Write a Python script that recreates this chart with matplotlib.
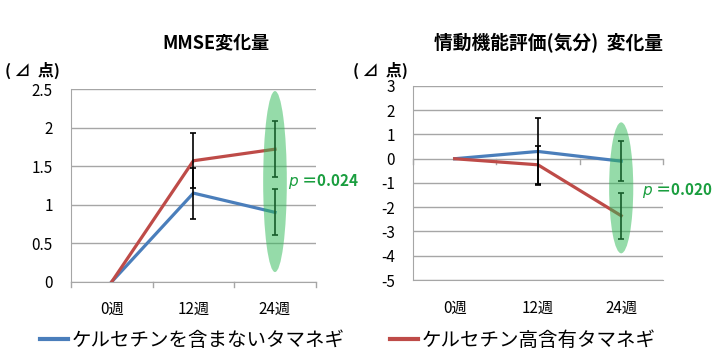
import numpy as np
import matplotlib
matplotlib.use('Agg')
import matplotlib.pyplot as plt
from matplotlib.patches import Ellipse
from matplotlib.lines import Line2D

plt.rcParams['font.family'] = ['Noto Sans CJK JP', 'DejaVu Sans']

# ── Data ──────────────────────────────────────────────
WEEKS = ['0週', '12週', '24週']

mmse_none  = [0, 1.15, 0.90]
mmse_none_err = [0, 0.33, 0.30]
mmse_high  = [0, 1.57, 1.72]
mmse_high_err = [0, 0.36, 0.36]

mood_none  = [0, 0.30, -0.10]
mood_none_err = [0, 1.38, 0.82]
mood_high  = [0, -0.25, -2.35]
mood_high_err = [0, 0.78, 0.95]

P_LEFT  = '0.024'
P_RIGHT = '0.020'

LABEL_NONE = 'ケルセチンを含まないタマネギ'
LABEL_HIGH = 'ケルセチン高含有タマネギ'

BLUE  = '#4A7EBB'
RED   = '#BE4B48'
GREEN_TXT = '#1A9E3F'
GRID  = '#A6A6A6'

fig = plt.figure(figsize=(7.2, 3.6), dpi=100)
axL = fig.add_axes([0.0986, 0.2175, 0.340, 0.535])
axR = fig.add_axes([0.5736, 0.2222, 0.347, 0.539])

x = np.arange(len(WEEKS))


def style(ax, ylim, yticks, ylabels, cat_y):
    ax.set_xlim(-0.5, 2.5)
    ax.set_ylim(*ylim)
    ax.set_yticks(yticks)
    ax.set_yticklabels(ylabels, fontsize=11)
    ax.set_xticks(x)
    ax.set_xticklabels(WEEKS, fontsize=11)
    ax.tick_params(axis='y', length=0, pad=13)
    ax.tick_params(axis='x', length=0, pad=14)
    for s in ['top', 'right']:
        ax.spines[s].set_visible(False)
    ax.spines['left'].set_color(GRID)
    ax.spines['bottom'].set_color(GRID)
    ax.yaxis.grid(True, color=GRID, linewidth=1)
    ax.set_axisbelow(True)
    # category boundary ticks on the category axis
    span = ylim[1] - ylim[0]
    for b in [-0.5, 0.5, 1.5, 2.5]:
        ax.plot([b, b], [cat_y, cat_y - span * 0.025], color=GRID,
                linewidth=1, clip_on=False, zorder=1)


def draw(ax, none, none_err, high, high_err, ell_c, ell_h):
    ax.plot(x, none, color=BLUE, linewidth=2.3, zorder=3)
    ax.plot(x, high, color=RED, linewidth=2.3, zorder=3)
    ax.errorbar(x[1:], high[1:], yerr=high_err[1:], fmt='none',
                ecolor='black', elinewidth=1.2, capsize=2.5, capthick=1.2,
                zorder=4)
    ax.errorbar(x[1:], none[1:], yerr=none_err[1:], fmt='none',
                ecolor='black', elinewidth=1.2, capsize=2.5, capthick=1.2,
                zorder=4)
    ax.add_patch(Ellipse((2, ell_c), 0.29, ell_h, facecolor='#2DB955',
                         edgecolor='none', alpha=0.5, zorder=5))


# ── Left: MMSE ──
style(axL, (0, 2.5), [0, 0.5, 1, 1.5, 2, 2.5],
      ['0', '0.5', '1', '1.5', '2', '2.5'], 0)
draw(axL, mmse_none, mmse_none_err, mmse_high, mmse_high_err, 1.3, 2.35)
axL.text(2.16, 1.30, r'$\mathit{p}$ ＝' + P_LEFT, color=GREEN_TXT,
         fontsize=11, fontweight='bold', va='center', ha='left',
         clip_on=False)

# ── Right: mood ──
yt = list(range(-5, 4))
style(axR, (-5, 3), yt, [str(v) for v in yt], 0)
draw(axR, mood_none, mood_none_err, mood_high, mood_high_err, -1.2, 5.4)
axR.text(2.25, -1.29, r'$\mathit{p}$ ＝' + P_RIGHT, color=GREEN_TXT,
         fontsize=11, fontweight='bold', va='center', ha='left',
         clip_on=False)

# ── Titles and units ──
fig.text(216 / 720, 1 - 43 / 360, 'MMSE変化量', fontsize=13,
         fontweight='bold', ha='center', va='center')
fig.text(549 / 720, 1 - 43 / 360, '情動機能評価(気分)  変化量', fontsize=13.5,
         fontweight='bold', ha='center', va='center')
fig.text(5 / 720, 1 - 70 / 360, '( ⊿  点)', fontsize=11.5,
         fontweight='bold', ha='left', va='center')
fig.text(353 / 720, 1 - 70 / 360, '( ⊿  点)', fontsize=11.5,
         fontweight='bold', ha='left', va='center')

# ── Legend ──
h_none = Line2D([], [], color=BLUE, linewidth=3)
h_high = Line2D([], [], color=RED, linewidth=3)
for h, lab, x0 in [(h_none, LABEL_NONE, 40 / 720),
                   (h_high, LABEL_HIGH, 390 / 720)]:
    fig.legend(handles=[h], labels=[lab], loc='center left',
               bbox_to_anchor=(x0, 1 - 340 / 360), frameon=False,
               fontsize=14, handlelength=1.45, handletextpad=0.2,
               borderpad=0, borderaxespad=0)

fig.savefig('out.png', dpi=100)
